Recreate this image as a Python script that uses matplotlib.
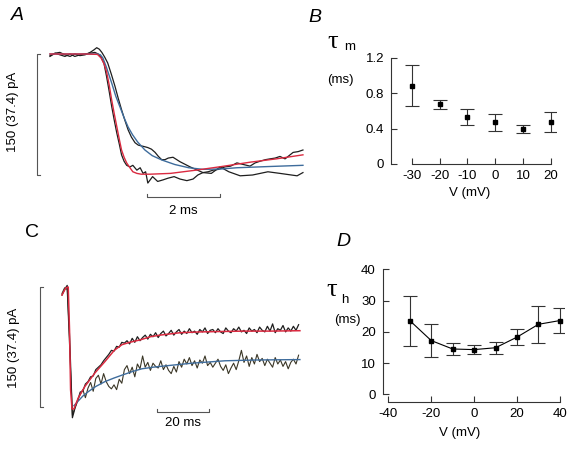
import matplotlib
matplotlib.use('Agg')
import matplotlib.pyplot as plt
import numpy as np

plt.rcParams['font.family'] = ['Liberation Sans', 'DejaVu Sans']
plt.rcParams['axes.unicode_minus'] = False

# ---------------- data ----------------
# Panel A: Na current onset (time in ms, current in pA, 150 pA scale)
redA_t = [0, 1.0, 1.3, 1.40, 1.48, 1.55, 1.62, 1.69, 1.76, 1.83, 1.90, 1.96, 2.03, 2.10, 2.19, 2.27, 2.38, 2.5,
          2.74, 3.3, 4.0, 4.7, 5.5, 6.2, 6.93]
redA_i = [0, 0, -0.5, -5, -12, -22, -38, -57, -74, -90, -106, -119, -128, -135, -141, -146, -148, -149,
          -149, -148, -144, -139.5, -134, -130, -125]
blueA_t = [0, 1.3, 1.38, 1.45, 1.55, 1.69, 1.80, 1.92, 2.03, 2.14, 2.26, 2.40, 2.6, 2.8, 3.07, 3.42, 3.8,
           4.19, 4.7, 5.12, 6.0, 6.93]
blueA_i = [0, 0, -1, -5, -17, -36, -52, -66, -79, -90.5, -100, -109, -119, -126, -131.5, -137, -141,
           -143, -142.5, -141, -139.5, -138]
traceA1_t = [0, 0.14, 0.27, 0.41, 0.55, 0.68, 0.82, 0.96, 1.10, 1.23, 1.32, 1.40, 1.48, 1.55, 1.62, 1.69,
             1.76, 1.83, 1.90, 1.96, 2.03, 2.10, 2.19, 2.27, 2.38, 2.47, 2.55, 2.62, 2.68, 2.81, 2.95, 3.10,
             3.23, 3.40, 3.56, 3.75, 3.92, 4.05, 4.19, 4.33, 4.47, 4.62, 4.79, 4.95, 5.12, 5.30, 5.48, 5.62,
             5.75, 5.90, 6.03, 6.17, 6.30, 6.44, 6.55, 6.66, 6.80, 6.93]
traceA1_i = [-3, 1, -1, -3, 0, -3, -1, 0, 1, 2, 0, -4, -12, -28, -46, -65, -82, -98, -112, -125, -133,
             -138, -140, -138, -144, -141, -148, -146, -160, -152, -158, -156, -154, -152, -155, -157, -155,
             -150, -147, -146, -144, -143, -140, -139, -135, -137, -139, -135, -133, -131, -130, -129, -127,
             -130, -126, -122, -121, -119]
traceA2_t = [0, 0.14, 0.27, 0.41, 0.55, 0.68, 0.82, 0.96, 1.10, 1.20, 1.28, 1.35, 1.42, 1.50, 1.58, 1.68,
             1.78, 1.87, 1.96, 2.05, 2.14, 2.23, 2.33, 2.42, 2.51, 2.60, 2.68, 2.78, 2.88, 2.97, 3.06, 3.15,
             3.24, 3.37, 3.56, 3.84, 4.19, 4.42, 4.66, 4.90, 5.21, 5.55, 5.97, 6.30, 6.77, 6.93]
traceA2_i = [-2, 1, 2, -1, -3, 0, -2, -1, 2, 5, 7.8, 6, 2, -4, -11, -25, -40, -55, -69, -82, -94, -103,
             -110, -113, -114, -115, -116, -118, -122, -127, -131, -131, -129, -128, -133.5, -140, -147,
             -148, -140, -146, -151, -150, -146, -148, -151, -147]

# Panel C: inactivation (time in ms, sampled every 1 ms; current in pA)
redC_t = [0, 0.8, 1.5, 2.4, 2.9, 3.3, 3.85, 4.6, 6.3, 8.8, 12.7, 16.5, 20.1, 23, 26, 30, 34, 37.7, 45.4,
          53, 60.8, 70, 80, 91.5]
redC_i = [-10, -5, -1, 0, -54, -128, -152, -152, -138, -124, -107, -93, -79, -72, -69, -66, -62, -60, -57,
          -56, -55.5, -55, -55, -54.5]
blueC_t = [4.6, 6, 8, 10.1, 13, 16.5, 20, 23, 27, 30.7, 35, 40.8, 50, 62.7, 75, 91.5]
blueC_i = [-148, -143, -136, -130.5, -124, -118, -113.5, -110, -105.5, -102, -100, -98, -95, -92, -91, -90.5]
upperC = [-10, -3, 2, -68, -163,
          -151, -142, -131, -130, -121, -118, -112, -111, -103, -100,
          -97, -92, -88, -84, -79, -80, -74, -75, -69, -70,
          -67, -71, -64, -69, -62, -67, -63, -60, -65, -59,
          -62, -57, -63, -58, -55, -61, -58, -54, -60, -56,
          -53, -59, -55, -58, -52, -57, -55, -59, -53, -56,
          -51, -58, -54, -53, -57, -52, -56, -58, -51, -55,
          -57, -52, -55, -50, -56, -54, -58, -51, -55, -53,
          -57, -50, -54, -56, -49, -55, -46, -57, -52, -54,
          -48, -56, -51, -55, -49, -54, -47]
lowerC = [-8, -1, -3, -80, -160,
          -150, -141, -134, -128, -138, -126, -119, -130, -114, -110,
          -121, -108, -118, -124, -127, -122, -128, -115, -120, -103,
          -98, -108, -100, -112, -96, -102, -86, -100, -94, -104,
          -95, -99, -101, -92, -103, -97, -104, -108, -99, -106,
          -93, -100, -90, -96, -88, -98, -92, -101, -91, -95,
          -86, -98, -94, -100, -95, -90, -99, -104, -97, -108,
          -101, -95, -103, -92, -79, -94, -86, -99, -88, -96,
          -84, -93, -89, -98, -90, -95, -100, -88, -96, -91,
          -99, -93, -102, -94, -90, -96, -85]
dtC = 1.0  # sampling interval (ms)

# Panel B: tau_m vs V
vB = [-30, -20, -10, 0, 10, 20]
tauM = [0.886, 0.678, 0.53, 0.473, 0.394, 0.473]
tauM_err = [0.235, 0.05, 0.087, 0.098, 0.042, 0.115]
B_xticks = [-30, -20, -10, 0, 10, 20]
B_yticks = [0, 0.4, 0.8, 1.2]
B_yticklabels = ['0', '0.4', '0.8', '1.2']

# Panel D: tau_h vs V
vD = [-30, -20, -10, 0, 10, 20, 30, 40]
tauH = [23.6, 17.2, 14.5, 14.3, 14.9, 18.3, 22.4, 23.6]
tauH_err = [8.0, 5.3, 1.8, 1.4, 1.9, 2.45, 5.85, 4.0]
D_xticks = [-40, -20, 0, 20, 40]
D_yticks = [0, 10, 20, 30, 40]

# ---------------- figure ----------------
W, H = 572, 449
fig = plt.figure(figsize=(W / 100, H / 100), dpi=100)

def rect(x0, y0, x1, y1):
    return [x0 / W, 1 - y1 / H, (x1 - x0) / W, (y1 - y0) / H]

def ftxt(x, y, s, **kw):
    kw.setdefault('ha', 'center')
    kw.setdefault('va', 'center')
    fig.text(x / W, 1 - y / H, s, **kw)

RED = '#da2a40'
BLUE = '#3e6c9c'
DARK = '#1e1e1e'
OLIVE = '#3a3626'
BAR = '#555555'
FS = 9.5

# ---- Panel A ----
axA = fig.add_axes(rect(0, 30, 310, 220))
axA.set_xlim((0 - 50) / 36.5, (310 - 50) / 36.5)
axA.set_ylim(-(220 - 54) * 150 / 121, -(30 - 54) * 150 / 121)
axA.axis('off')
axA.plot(traceA2_t, traceA2_i, color=DARK, lw=0.9)
axA.plot(traceA1_t, traceA1_i, color=DARK, lw=0.9)
axA.plot(blueA_t, blueA_i, color=BLUE, lw=1.0)
axA.plot(redA_t, redA_i, color=RED, lw=1.0)
# scale bars
axA.plot([-0.27, -0.356, -0.356, -0.27], [0, 0, -150, -150], color=BAR, lw=0.8)
axA.plot([2.66, 2.66, 4.66, 4.66], [-173, -177, -177, -173], color=BAR, lw=0.8)
ftxt(183, 211, '2 ms', fontsize=FS)
ftxt(13, 112, '150 (37.4) pA', fontsize=FS, rotation=90)

# ---- Panel C ----
axC = fig.add_axes(rect(0, 225, 310, 440))
axC.set_xlim((0 - 62) / 2.6, (310 - 62) / 2.6)
axC.set_ylim(-(440 - 287) * 150 / 120.3, -(225 - 287) * 150 / 120.3)
axC.axis('off')
tC = np.arange(len(upperC)) * dtC
axC.plot(tC, lowerC, color=OLIVE, lw=0.8)
axC.plot(tC, upperC, color=DARK, lw=0.9)
axC.plot(blueC_t, blueC_i, color=BLUE, lw=1.0)
axC.plot(redC_t, redC_i, color=RED, lw=1.1)
axC.plot([-7.3, -8.46, -8.46, -7.3], [0, 0, -150, -150], color=BAR, lw=0.8)
axC.plot([36.5, 36.5, 56.5, 56.5], [-151.5, -155.5, -155.5, -151.5], color=BAR, lw=0.8)
ftxt(183, 423, '20 ms', fontsize=FS)
ftxt(14, 348, '150 (37.4) pA', fontsize=FS, rotation=90)

# ---- Panel B ----
def style_axis(ax):
    for s in ['top', 'right']:
        ax.spines[s].set_visible(False)
    for s in ['left', 'bottom']:
        ax.spines[s].set_color('#333333')
        ax.spines[s].set_linewidth(0.8)
    ax.tick_params(direction='in', length=4, width=0.8, color='#333333', labelsize=FS)
    ax.tick_params(axis='y', pad=5)
    ax.tick_params(axis='x', pad=4)

axB = fig.add_axes(rect(391, 58, 556, 164))
axB.set_xlim(-37.45, 21.9)
axB.set_ylim(0, 1.2)
style_axis(axB)
axB.spines['left'].set_bounds(0, 1.2)
axB.spines['bottom'].set_bounds(-30, 20)
axB.set_xticks(B_xticks)
axB.set_yticks(B_yticks)
axB.set_yticklabels(B_yticklabels)
axB.errorbar(vB, tauM, yerr=tauM_err, fmt='s', color='black', ms=3.2, ecolor='#333333',
             elinewidth=0.8, capsize=5, capthick=0.8)
ftxt(470, 193, 'V (mV)', fontsize=FS)
ftxt(333, 42, 'τ', fontsize=19, family=['Liberation Serif', 'DejaVu Serif'])
ftxt(350, 47, 'm', fontsize=FS)
ftxt(340, 80, '(ms)', fontsize=FS)

# ---- Panel D ----
axD = fig.add_axes(rect(382.7, 269.3, 564, 402.3))
axD.set_xlim(-42.6, 41.9)
axD.set_ylim(-2.56, 40)
style_axis(axD)
axD.spines['left'].set_bounds(0, 40)
axD.spines['bottom'].set_bounds(-40, 40)
axD.set_xticks(D_xticks)
axD.set_yticks(D_yticks)
axD.errorbar(vD, tauH, yerr=tauH_err, fmt='s-', color='black', ms=3.2, lw=0.8, ecolor='#333333',
             elinewidth=0.8, capsize=5, capthick=0.8)
ftxt(460, 433, 'V (mV)', fontsize=FS)
ftxt(332, 290, 'τ', fontsize=19, family=['Liberation Serif', 'DejaVu Serif'])
ftxt(345, 300, 'h', fontsize=FS)
ftxt(347, 320, '(ms)', fontsize=FS)

# panel letters
ftxt(17, 15, 'A', fontsize=14, style='italic')
ftxt(315, 18, 'B', fontsize=14, style='italic')
ftxt(32, 232, 'C', fontsize=14)
ftxt(343, 242, 'D', fontsize=14, style='italic')

fig.savefig('out.png', dpi=100)
